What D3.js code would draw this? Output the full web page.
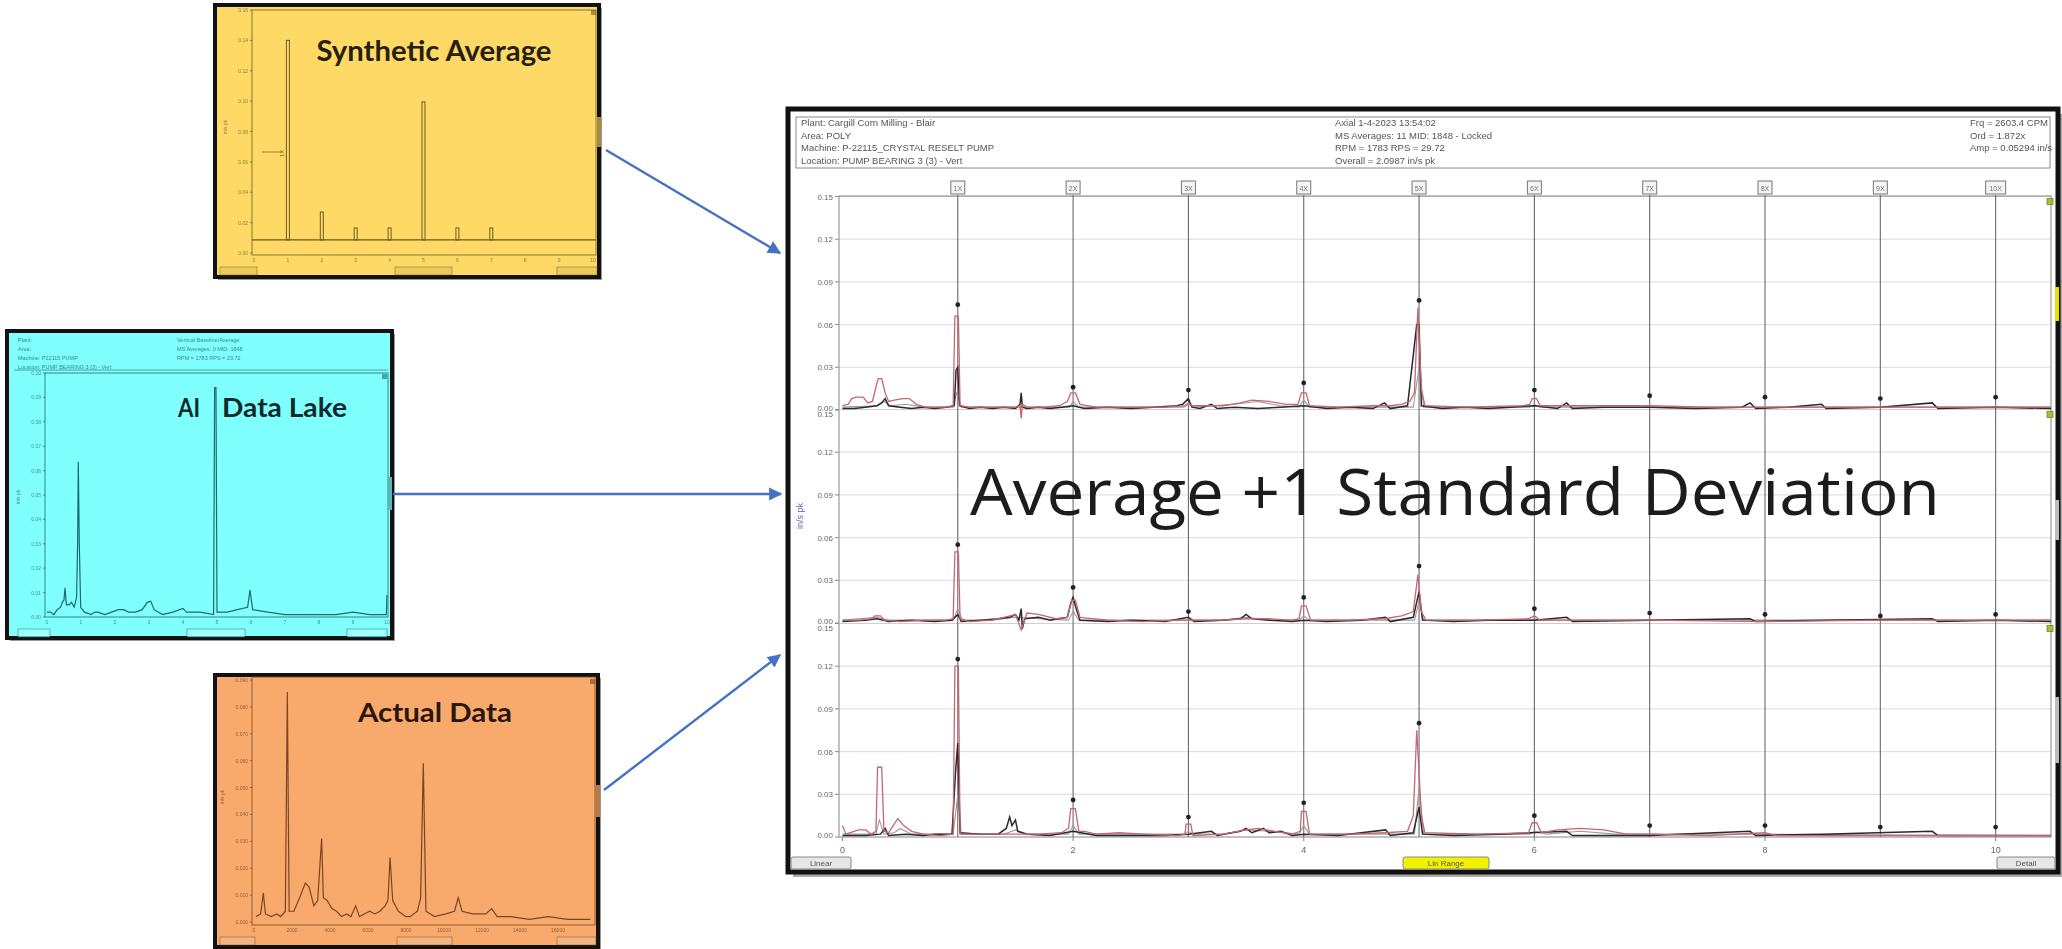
<!DOCTYPE html>
<html><head><meta charset="utf-8">
<script src="https://cdn.jsdelivr.net/npm/d3@7"></script>
<style>body{margin:0;background:#fff;overflow:hidden}svg{display:block}</style>
</head><body>
<script>
// ================= DATA =================
// main chart (orders of running speed)
const harmonicOrders = [1,2,3,4,5,6,7,8,9,10];
const harmonicLabels = ["1X","2X","3X","4X","5X","6X","7X","8X","9X","10X"];
const mainXTicks = [0,2,4,6,8,10];
const mainYTicks = [0,0.03,0.06,0.09,0.12,0.15];
const mainYTickLabels = ["0.00","0.03","0.06","0.09","0.12","0.15"];
const headerLeft = ["Plant: Cargill Corn Milling - Blair","Area: POLY","Machine: P-22115_CRYSTAL RESELT PUMP","Location: PUMP BEARING 3 (3) - Vert"];
const headerMid = ["Axial   1-4-2023   13:54:02","MS Averages: 11    MID: 1848 - Locked","RPM = 1783    RPS = 29.72","Overall = 2.0987 in/s pk"];
const headerRight = ["Frq = 2603.4 CPM","Ord = 1.872x","Amp = 0.05294 in/s"];
const mainYTitle = "in/s pk";
const bigLabel = "Average +1 Standard Deviation";

const p1Pink = [[0,0.003],[0.05,0.004],[0.08,0.008],[0.12,0.009],[0.18,0.009],[0.22,0.005],[0.26,0.006],[0.29,0.016],[0.31,0.022],[0.34,0.022],[0.37,0.012],[0.40,0.006],[0.45,0.007],[0.52,0.008],[0.58,0.008],[0.64,0.004],[0.72,0.002],[0.8,0.002],[0.9,0.002],[0.96,0.003],[0.975,0.066],[1.005,0.066],[1.02,0.003],[1.1,0.002],[1.25,0.002],[1.4,0.002],[1.5,0.002],[1.54,0.003],[1.55,-0.006],[1.56,0.004],[1.6,0.002],[1.75,0.002],[1.88,0.003],[1.95,0.006],[1.98,0.012],[2.02,0.012],[2.06,0.004],[2.2,0.002],[2.5,0.002],[2.8,0.002],[2.97,0.003],[3.0,0.005],[3.03,0.003],[3.3,0.003],[3.45,0.005],[3.55,0.007],[3.7,0.006],[3.85,0.004],[3.95,0.004],[3.98,0.012],[4.02,0.012],[4.05,0.003],[4.3,0.002],[4.6,0.003],[4.75,0.003],[4.85,0.004],[4.92,0.006],[4.96,0.012],[4.99,0.072],[5.02,0.015],[5.05,0.003],[5.4,0.002],[5.9,0.003],[5.96,0.004],[5.98,0.008],[6.02,0.008],[6.05,0.003],[6.4,0.003],[7.0,0.003],[7.5,0.002],[8,0.002],[8.5,0.002],[9,0.002],[9.5,0.002],[10,0.002],[10.48,0.002]];
const p1Black = [[0,0.001],[0.1,0.001],[0.2,0.002],[0.3,0.003],[0.34,0.005],[0.37,0.008],[0.4,0.003],[0.5,0.002],[0.6,0.001],[0.7,0.002],[0.8,0.001],[0.9,0.002],[0.97,0.003],[0.985,0.028],[1.0,0.03],[1.015,0.003],[1.1,0.001],[1.2,0.002],[1.3,0.001],[1.4,0.002],[1.5,0.001],[1.54,0.004],[1.55,0.012],[1.56,0.002],[1.6,0.001],[1.7,0.002],[1.8,0.001],[1.9,0.002],[2.0,0.003],[2.1,0.001],[2.3,0.002],[2.5,0.001],[2.7,0.002],[2.9,0.003],[2.95,0.004],[3.0,0.008],[3.03,0.002],[3.1,0.001],[3.2,0.004],[3.25,0.001],[3.4,0.002],[3.6,0.001],[3.8,0.002],[4.0,0.003],[4.2,0.001],[4.4,0.002],[4.6,0.001],[4.7,0.005],[4.75,0.001],[4.9,0.003],[4.98,0.06],[5.0,0.06],[5.02,0.003],[5.2,0.001],[5.4,0.002],[5.6,0.001],[5.8,0.002],[6.0,0.003],[6.2,0.001],[6.28,0.005],[6.33,0.001],[6.6,0.002],[7.0,0.002],[7.4,0.001],[7.8,0.002],[7.87,0.005],[7.92,0.001],[8.2,0.002],[8.49,0.004],[8.53,0.001],[9.0,0.002],[9.45,0.005],[9.5,0.001],[10,0.002],[10.48,0.001]];
const p1Gray = [[0,0.002],[0.3,0.003],[0.36,0.006],[0.42,0.003],[0.55,0.004],[0.7,0.002],[0.96,0.002],[0.99,0.012],[1.03,0.002],[1.6,0.002],[1.97,0.002],[2.0,0.006],[2.05,0.002],[2.96,0.002],[3.0,0.004],[3.04,0.002],[3.4,0.004],[3.6,0.006],[3.8,0.003],[3.96,0.002],[4.0,0.007],[4.05,0.002],[4.95,0.002],[5.0,0.03],[5.04,0.002],[5.96,0.002],[6.0,0.004],[6.05,0.002],[6.96,0.002],[7.0,0.003],[7.04,0.002],[8,0.002],[9,0.002],[10.48,0.002]];
const p1Dots = [0.074,0.016,0.014,0.019,0.077,0.014,0.010,0.009,0.008,0.009];

const p2Pink = [[0,0.002],[0.15,0.002],[0.25,0.003],[0.28,0.005],[0.33,0.005],[0.36,0.002],[0.5,0.001],[0.7,0.002],[0.9,0.002],[0.96,0.003],[0.975,0.050],[1.005,0.050],[1.02,0.003],[1.1,0.001],[1.3,0.002],[1.4,0.004],[1.5,0.006],[1.55,-0.005],[1.6,0.007],[1.7,0.006],[1.85,0.003],[1.95,0.004],[1.99,0.016],[2.02,0.016],[2.06,0.004],[2.3,0.002],[2.6,0.001],[2.9,0.002],[3.0,0.002],[3.3,0.002],[3.5,0.003],[3.7,0.003],[3.9,0.002],[3.96,0.003],[3.98,0.012],[4.02,0.012],[4.06,0.002],[4.4,0.002],[4.7,0.003],[4.85,0.005],[4.95,0.008],[4.99,0.034],[5.02,0.008],[5.06,0.002],[5.5,0.002],[5.95,0.003],[6.0,0.005],[6.05,0.002],[6.5,0.002],[7,0.002],[8,0.001],[9,0.002],[10,0.002],[10.48,0.002]];
const p2Black = [[0,0.001],[0.2,0.002],[0.3,0.003],[0.4,0.001],[0.6,0.002],[0.8,0.001],[0.95,0.002],[1.0,0.006],[1.03,0.001],[1.2,0.002],[1.35,0.003],[1.45,0.004],[1.5,0.006],[1.53,0.002],[1.55,0.010],[1.56,-0.004],[1.58,0.003],[1.7,0.004],[1.8,0.002],[1.95,0.004],[1.98,0.014],[2.0,0.018],[2.02,0.012],[2.06,0.002],[2.3,0.001],[2.5,0.002],[2.8,0.001],[3.0,0.004],[3.05,0.001],[3.3,0.002],[3.45,0.003],[3.5,0.006],[3.55,0.003],[3.7,0.002],[3.9,0.001],[4.0,0.002],[4.2,0.001],[4.5,0.002],[4.71,0.004],[4.75,0.001],[4.95,0.004],[5.0,0.022],[5.03,0.002],[5.3,0.001],[5.6,0.002],[6.0,0.002],[6.28,0.004],[6.33,0.001],[7,0.002],[7.87,0.003],[7.92,0.001],[8.5,0.002],[9.45,0.003],[9.5,0.001],[10,0.002],[10.48,0.001]];
const p2Gray = [[0,0.002],[0.3,0.004],[0.4,0.002],[0.96,0.002],[1.0,0.010],[1.04,0.002],[1.3,0.002],[1.5,0.004],[1.7,0.003],[1.96,0.002],[2.0,0.008],[2.05,0.002],[3.3,0.002],[3.5,0.004],[3.7,0.002],[3.96,0.002],[4.0,0.005],[4.05,0.002],[4.96,0.002],[5.0,0.015],[5.04,0.002],[5.96,0.002],[6.0,0.003],[6.04,0.002],[7,0.002],[8.5,0.002],[10.48,0.002]];
const p2Dots = [0.055,0.025,0.008,0.018,0.040,0.010,0.007,0.006,0.005,0.006];

const p3Pink = [[0,0.008],[0.03,0.002],[0.1,0.004],[0.14,0.005],[0.2,0.005],[0.25,0.002],[0.29,0.004],[0.305,0.049],[0.34,0.049],[0.36,0.004],[0.4,0.003],[0.44,0.008],[0.48,0.013],[0.53,0.008],[0.6,0.004],[0.7,0.002],[0.85,0.001],[0.96,0.002],[0.975,0.120],[1.005,0.120],[1.02,0.002],[1.2,0.002],[1.35,0.002],[1.5,0.002],[1.7,0.002],[1.9,0.003],[1.96,0.006],[1.98,0.020],[2.02,0.020],[2.05,0.004],[2.1,0.004],[2.2,0.002],[2.4,0.003],[2.6,0.002],[2.9,0.001],[2.97,0.002],[2.98,0.009],[3.02,0.009],[3.04,0.001],[3.3,0.002],[3.5,0.005],[3.6,0.006],[3.75,0.004],[3.9,0.002],[3.97,0.004],[3.98,0.018],[4.02,0.018],[4.05,0.002],[4.4,0.002],[4.7,0.003],[4.9,0.004],[4.95,0.015],[4.98,0.075],[5.02,0.015],[5.05,0.003],[5.5,0.002],[5.95,0.003],[5.98,0.010],[6.02,0.010],[6.06,0.003],[6.2,0.005],[6.4,0.006],[6.6,0.005],[6.8,0.002],[7.0,0.002],[7.5,0.001],[8.0,0.003],[8.1,0.001],[9,0.001],[10,0.001],[10.48,0.001]];
const p3Black = [[0,0.001],[0.2,0.001],[0.33,0.002],[0.37,0.006],[0.4,0.001],[0.55,0.002],[0.7,0.001],[0.8,0.002],[0.95,0.002],[0.98,0.045],[1.0,0.066],[1.02,0.003],[1.2,0.002],[1.35,0.002],[1.42,0.006],[1.45,0.014],[1.47,0.008],[1.5,0.012],[1.52,0.004],[1.6,0.002],[1.8,0.001],[2.0,0.004],[2.2,0.001],[2.5,0.001],[2.8,0.001],[3.0,0.002],[3.2,0.004],[3.25,0.001],[3.45,0.004],[3.5,0.006],[3.55,0.003],[3.65,0.006],[3.7,0.003],[3.8,0.004],[3.9,0.001],[4.0,0.002],[4.3,0.001],[4.71,0.005],[4.75,0.001],[4.95,0.003],[5.0,0.021],[5.03,0.002],[5.3,0.001],[5.7,0.002],[6.28,0.004],[6.33,0.001],[7,0.001],[7.87,0.004],[7.92,0.001],[8.5,0.002],[9.45,0.004],[9.5,0.001],[10,0.001],[10.48,0.001]];
const p3Gray = [[0,0.002],[0.29,0.002],[0.32,0.012],[0.36,0.002],[0.45,0.003],[0.5,0.006],[0.6,0.002],[0.96,0.002],[1.0,0.03],[1.03,0.002],[1.4,0.002],[1.5,0.005],[1.6,0.002],[1.96,0.002],[2.0,0.008],[2.05,0.002],[2.96,0.002],[3.0,0.004],[3.04,0.002],[3.3,0.002],[3.5,0.005],[3.7,0.004],[3.96,0.002],[4.0,0.008],[4.05,0.002],[4.96,0.002],[5.0,0.035],[5.04,0.002],[5.96,0.002],[6.0,0.004],[6.1,0.002],[6.4,0.004],[6.7,0.002],[7,0.002],[8,0.002],[10.48,0.001]];
const p3Dots = [0.125,0.026,0.014,0.024,0.080,0.015,0.008,0.008,0.007,0.007];

// inset 1: Synthetic Average (orders, discrete lines)
const synthTitle = "Synthetic Average";
const synthOrders = [1,2,3,4,5,6,7];
const synthValues = [0.140,0.027,0.0165,0.0165,0.0995,0.0165,0.0165];
const synthFloor = [0.0086];
const synthXTicks = [0,1,2,3,4,5,6,7,8,9,10];
const synthYTicks = [0,0.02,0.04,0.06,0.08,0.10,0.12,0.14,0.16];

// inset 2: AI Data Lake (orders)
const lakeTitle = ["AI","Data Lake"];
const lakeHeaderLeft = ["Plant:","Area:","Machine: P22115 PUMP","Location: PUMP BEARING 3 (3) - Vert"];
const lakeHeaderMid = ["Vertical   Baseline/Average","MS Averages: 0    MID: 1848","RPM = 1783    RPS = 29.72"];
const lakeSpectrum = [[0,0.002],[0.1,0.002],[0.2,0.001],[0.3,0.003],[0.4,0.004],[0.45,0.006],[0.5,0.007],[0.53,0.012],[0.57,0.005],[0.65,0.005],[0.72,0.006],[0.8,0.004],[0.87,0.008],[0.9,0.03],[0.92,0.0635],[0.95,0.03],[0.99,0.004],[1.1,0.002],[1.3,0.001],[1.4,0.002],[1.5,0.002],[1.7,0.001],[1.9,0.002],[2.1,0.003],[2.25,0.003],[2.4,0.002],[2.6,0.002],[2.8,0.003],[2.95,0.006],[3.05,0.0065],[3.15,0.003],[3.4,0.001],[3.7,0.002],[4.0,0.0035],[4.1,0.002],[4.5,0.002],[4.9,0.001],[4.93,0.094],[4.97,0.094],[5.0,0.002],[5.3,0.002],[5.6,0.003],[5.9,0.004],[5.97,0.011],[6.05,0.003],[6.5,0.002],[7,0.001],[7.5,0.001],[8,0.001],[8.5,0.001],[9.0,0.002],[9.5,0.001],[9.98,0.001],[10,0.009]];
const lakeXTicks = [0,1,2,3,4,5,6,7,8,9,10];
const lakeYTicks = [0,0.01,0.02,0.03,0.04,0.05,0.06,0.07,0.08,0.09,0.10];

// inset 3: Actual Data (CPM)
const actualTitle = "Actual Data";
const actualSpectrum = [[100,0.002],[350,0.003],[490,0.0108],[600,0.003],[900,0.002],[1190,0.003],[1400,0.002],[1650,0.004],[1755,0.0855],[1850,0.004],[2100,0.004],[2400,0.009],[2700,0.0145],[2900,0.013],[3150,0.006],[3350,0.008],[3560,0.031],[3650,0.009],[3850,0.008],[4100,0.005],[4350,0.004],[4600,0.002],[4880,0.003],[5100,0.002],[5350,0.006],[5550,0.002],[5800,0.003],[6100,0.004],[6350,0.003],[6630,0.004],[6900,0.006],[7050,0.008],[7160,0.024],[7300,0.008],[7600,0.004],[8000,0.002],[8210,0.002],[8600,0.004],[8770,0.009],[8910,0.059],[9050,0.004],[9500,0.002],[10100,0.003],[10550,0.004],[10750,0.009],[10950,0.004],[11500,0.003],[12200,0.003],[12510,0.005],[12800,0.002],[13500,0.002],[14500,0.001],[15500,0.002],[16500,0.001],[17700,0.001]];
const actualXTicks = [0,2000,4000,6000,8000,10000,12000,14000,16000];
const actualYTicks = [0,0.01,0.02,0.03,0.04,0.05,0.06,0.07,0.08,0.09];

// ================= DRAW =================
const W = 2062, H = 949;
const svg = d3.select("body").append("svg").attr("width", W).attr("height", H)
  .style("font-family", "'Liberation Sans', Arial, sans-serif");
const defs = svg.append("defs");
defs.append("marker").attr("id","arrowHead").attr("viewBox","0 0 10 10")
  .attr("refX",9).attr("refY",5).attr("markerWidth",5.5).attr("markerHeight",5.5)
  .attr("orient","auto").append("path").attr("d","M0,0L10,5L0,10z").attr("fill","#4472C4");
defs.append("filter").attr("id","soft").append("feGaussianBlur").attr("stdDeviation",0.45);

// ---------- MAIN CHART ----------
const main = svg.append("g");
main.append("rect").attr("x",793).attr("y",114).attr("width",1270).attr("height",763).attr("fill","#aaa");
main.append("rect").attr("x",788).attr("y",109).attr("width",1270).attr("height",763)
  .attr("fill","#fff").attr("stroke","#111").attr("stroke-width",5);
main.append("rect").attr("x",796).attr("y",117).attr("width",1254).attr("height",51)
  .attr("fill","none").attr("stroke","#8a8a8a").attr("stroke-width",1);

const hdr = main.append("g").attr("font-size",9.5).attr("fill","#555").attr("filter","url(#soft)");
hdr.selectAll("text.l").data(headerLeft).join("text").attr("x",801).attr("y",(d,i)=>126+i*12.5).text(d=>d);
hdr.selectAll("text.m").data(headerMid).join("text").attr("x",1335).attr("y",(d,i)=>126+i*12.5).text(d=>d);
hdr.selectAll("text.r").data(headerRight).join("text").attr("x",1970).attr("y",(d,i)=>126+i*12.5).text(d=>d);

const x = d3.scaleLinear().domain([-0.03, 10.48]).range([839, 2051]);
const panelBottoms = [410, 623, 837];
const panelScales = panelBottoms.map(b => d3.scaleLinear().domain([0, 0.15]).range([b, b - 213.5]));
const plotTop = 196, plotBottom = 837;

// grid lines
panelScales.forEach((y, pi) => {
  main.append("g").selectAll("line").data(mainYTicks.slice(1, 5)).join("line")
    .attr("x1", x.range()[0]).attr("x2", x.range()[1])
    .attr("y1", d => y(d)).attr("y2", d => y(d)).attr("stroke", "#e2e2e2").attr("stroke-width", 1.2);
  main.append("line").attr("x1", x.range()[0]).attr("x2", x.range()[1])
    .attr("y1", y(0.15)).attr("y2", y(0.15)).attr("stroke", "#cfcfcf");
  const lab = main.append("g").attr("font-size", 8).attr("fill", "#666").attr("text-anchor","end").attr("filter","url(#soft)");
  lab.selectAll("text").data(mainYTicks).join("text")
    .attr("x", 833).attr("y", d => y(d) + 3 + (d === 0 ? -2 : 0) + (d === 0.15 && pi > 0 ? 4 : 0))
    .text((d,i) => mainYTickLabels[i]);
  main.append("g").selectAll("line").data(mainYTicks).join("line")
    .attr("x1",835).attr("x2",839).attr("y1",d=>y(d)).attr("y2",d=>y(d)).attr("stroke","#888");
});

// frame
main.append("rect").attr("x", x.range()[0]).attr("y", plotTop).attr("width", x.range()[1]-x.range()[0])
  .attr("height", plotBottom - plotTop).attr("fill","none").attr("stroke","#9a9a9a").attr("stroke-width",1.2);

// harmonic cursor lines + label boxes
main.append("g").selectAll("line").data(harmonicOrders).join("line")
  .attr("x1", d => x(d)).attr("x2", d => x(d)).attr("y1", plotTop - 1).attr("y2", plotBottom)
  .attr("stroke", "#6a6a6a").attr("stroke-width", 1.1);
const hb = main.append("g").selectAll("g").data(harmonicOrders).join("g")
  .attr("transform", d => `translate(${x(d)},${plotTop - 8})`);
hb.append("rect").attr("x", (d,i) => i === 9 ? -10 : -7).attr("y", -7)
  .attr("width", (d,i) => i === 9 ? 20 : 14).attr("height", 13)
  .attr("fill", "#f4f4f4").attr("stroke", "#777");
hb.append("text").attr("text-anchor","middle").attr("y",3).attr("font-size",7).attr("fill","#777")
  .attr("filter","url(#soft)").text((d,i) => harmonicLabels[i]);

// traces
const panels = [
  {pink: p1Pink, black: p1Black, gray: p1Gray, dots: p1Dots},
  {pink: p2Pink, black: p2Black, gray: p2Gray, dots: p2Dots},
  {pink: p3Pink, black: p3Black, gray: p3Gray, dots: p3Dots}
];
panels.forEach((p, pi) => {
  const y = panelScales[pi];
  const line = d3.line().x(d => x(d[0])).y(d => y(d[1]));
  const g = main.append("g");
  g.append("path").datum(p.gray).attr("d", line).attr("fill","none").attr("stroke","#9c9c9c").attr("stroke-width",1.1);
  g.append("path").datum(p.black).attr("d", line).attr("fill","none").attr("stroke","#2a2a2a").attr("stroke-width",1.5);
  g.append("path").datum(p.pink).attr("d", line).attr("fill","none").attr("stroke","#c56674").attr("stroke-width",1.3);
  g.selectAll("circle").data(p.dots).join("circle")
    .attr("cx", (d,i) => x(harmonicOrders[i])).attr("cy", d => y(d)).attr("r", 2.4).attr("fill","#222");
  g.append("rect").attr("x", 2047).attr("y", y(0.15) + 2).attr("width", 6).attr("height", 6)
    .attr("fill","#9fc23a").attr("stroke","#6d8a20").attr("stroke-width",0.8);
});

// x axis labels
main.append("g").attr("font-size",9).attr("fill","#666").attr("text-anchor","middle").attr("filter","url(#soft)")
  .selectAll("text").data(mainXTicks).join("text").attr("x", d => x(d)).attr("y", 853).text(d => d);
main.append("g").selectAll("line").data(mainXTicks).join("line")
  .attr("x1", d => x(d)).attr("x2", d => x(d)).attr("y1", plotBottom).attr("y2", plotBottom + 4).attr("stroke","#888");

// y title
main.append("text").attr("transform","translate(803,516) rotate(-90)").attr("text-anchor","middle")
  .attr("font-size",9).attr("fill","#6a5fb0").attr("filter","url(#soft)").text(mainYTitle);

// right-edge handles
main.append("rect").attr("x",2055).attr("y",287).attr("width",4).attr("height",34).attr("fill","#e8e000");
main.append("rect").attr("x",2055).attr("y",500).attr("width",4).attr("height",40).attr("fill","#bdbdbd");
main.append("rect").attr("x",2055).attr("y",697).attr("width",4).attr("height",66).attr("fill","#bdbdbd");

// bottom buttons
const btns = [{x:791,w:60,t:"Linear",f:"#e6e6e6"},{x:1403,w:86,t:"Lin Range",f:"#f2f200"},{x:1997,w:58,t:"Detail",f:"#e6e6e6"}];
const bg = main.append("g").selectAll("g").data(btns).join("g");
bg.append("rect").attr("x",d=>d.x).attr("y",857).attr("width",d=>d.w).attr("height",12).attr("rx",2)
  .attr("fill",d=>d.f).attr("stroke","#888");
bg.append("text").attr("x",d=>d.x+d.w/2).attr("y",866).attr("text-anchor","middle").attr("font-size",8)
  .attr("fill","#555").attr("filter","url(#soft)").text(d=>d.t);

// big overlay text
main.append("text").attr("x",970).attr("y",515).attr("font-family","'Open Sans', 'Noto Sans', sans-serif")
  .attr("font-size",64).attr("fill","#1c1c1c").attr("textLength",970).attr("lengthAdjust","spacingAndGlyphs")
  .text(bigLabel);

// ---------- INSET HELPERS ----------
function insetBox(bx, by, bw, bh, fill) {
  svg.append("rect").attr("x",bx+3).attr("y",by+3).attr("width",bw).attr("height",bh).attr("fill","#999");
  svg.append("rect").attr("x",bx).attr("y",by).attr("width",bw).attr("height",bh)
    .attr("fill",fill).attr("stroke","#111").attr("stroke-width",4);
}
function insetFrame(g, xs, ys, ink, xTicks, yTicks, yFmt, xFmt, frame) {
  g.append("rect").attr("x",frame[0]).attr("y",frame[1]).attr("width",frame[2]-frame[0]).attr("height",frame[3]-frame[1])
    .attr("fill","none").attr("stroke",ink).attr("stroke-width",1).attr("opacity",0.8);
  const t = g.append("g").attr("font-size",5).attr("fill",ink).attr("opacity",0.75).attr("filter","url(#soft)");
  t.selectAll("text.y").data(yTicks).join("text").attr("x",frame[0]-4).attr("y",d=>ys(d)+2)
    .attr("text-anchor","end").text(yFmt);
  t.selectAll("text.x").data(xTicks).join("text").attr("x",d=>xs(d)).attr("y",frame[3]+7)
    .attr("text-anchor","middle").text(xFmt);
  g.append("g").selectAll("line").data(yTicks).join("line").attr("x1",frame[0]-2).attr("x2",frame[0])
    .attr("y1",d=>ys(d)).attr("y2",d=>ys(d)).attr("stroke",ink).attr("opacity",0.7);
}
function insetButtons(g, xs3, y, ink, fill) {
  g.append("g").selectAll("rect").data(xs3).join("rect").attr("x",d=>d[0]).attr("y",y).attr("width",d=>d[1]-d[0])
    .attr("height",8).attr("fill",fill).attr("stroke",ink).attr("stroke-width",0.6).attr("opacity",0.8);
}

// ---------- INSET 1: SYNTHETIC AVERAGE ----------
{
  const ink = "#6b5c1f";
  insetBox(215, 5, 384, 272, "#FFD966");
  const g = svg.append("g");
  const xs = d3.scaleLinear().domain([0,10]).range([254,593]);
  const ys = d3.scaleLinear().domain([0,0.16]).range([253,10]);
  insetFrame(g, xs, ys, ink, synthXTicks, synthYTicks, d=>d.toFixed(2), d=>d, [252,10,596,255]);
  g.append("line").attr("x1",252).attr("x2",596).attr("y1",ys(synthFloor[0])).attr("y2",ys(synthFloor[0]))
    .attr("stroke",ink).attr("stroke-width",1.2);
  g.selectAll("rect.pk").data(synthValues).join("rect").attr("class","pk")
    .attr("x",(d,i)=>xs(synthOrders[i])-1.5).attr("width",3)
    .attr("y",d=>ys(d)).attr("height",d=>ys(synthFloor[0])-ys(d))
    .attr("fill","none").attr("stroke",ink).attr("stroke-width",1);
  g.append("line").attr("x1",262).attr("x2",282).attr("y1",152).attr("y2",152).attr("stroke",ink).attr("stroke-width",0.7);
  g.append("text").attr("transform","translate(284,157) rotate(-90)").attr("font-size",6).attr("fill",ink).text("1X");
  g.append("text").attr("transform","translate(227,127) rotate(-90)").attr("font-size",5).attr("text-anchor","middle")
    .attr("fill",ink).attr("opacity",0.7).text("in/s pk");
  g.append("rect").attr("x",596).attr("y",117).attr("width",5).attr("height",30).attr("fill","#c9a94a").attr("opacity",0.8);
  g.append("rect").attr("x",591).attr("y",10).attr("width",5).attr("height",5).attr("fill",ink).attr("opacity",0.6);
  insetButtons(g, [[220,257],[395,452],[557,597]], 267, ink, "#e8c85a");
  g.append("text").attr("x",434).attr("y",61).attr("text-anchor","middle").attr("font-family","Lato, 'Open Sans', sans-serif")
    .attr("font-weight","bold").attr("font-size",29).attr("fill","#262010").attr("textLength",235)
    .attr("lengthAdjust","spacingAndGlyphs").text(synthTitle);
}

// ---------- INSET 2: AI DATA LAKE ----------
{
  const ink = "#1f6a6a";
  insetBox(7, 331, 385, 307, "#80FFFF");
  const g = svg.append("g");
  const xs = d3.scaleLinear().domain([0,10]).range([47,387]);
  const ys = d3.scaleLinear().domain([0,0.10]).range([617,373]);
  const ht = g.append("g").attr("font-size",5.5).attr("fill",ink).attr("opacity",0.8).attr("filter","url(#soft)");
  ht.selectAll("text.l").data(lakeHeaderLeft).join("text").attr("x",18).attr("y",(d,i)=>342+i*9).text(d=>d);
  ht.selectAll("text.m").data(lakeHeaderMid).join("text").attr("x",177).attr("y",(d,i)=>342+i*9).text(d=>d);
  g.append("line").attr("x1",14).attr("x2",388).attr("y1",370).attr("y2",370).attr("stroke",ink).attr("opacity",0.6);
  insetFrame(g, xs, ys, ink, lakeXTicks, lakeYTicks, d=>d.toFixed(2), d=>d, [45,373,388,617]);
  g.append("path").datum(lakeSpectrum).attr("d", d3.line().x(d=>xs(d[0])).y(d=>ys(d[1])))
    .attr("fill","none").attr("stroke",ink).attr("stroke-width",1.2);
  g.append("text").attr("transform","translate(20,497) rotate(-90)").attr("font-size",5).attr("text-anchor","middle")
    .attr("fill",ink).attr("opacity",0.7).text("in/s pk");
  g.append("rect").attr("x",388).attr("y",477).attr("width",4).attr("height",33).attr("fill","#5fb5b5");
  g.append("rect").attr("x",382).attr("y",374).attr("width",5).attr("height",5).attr("fill",ink).attr("opacity",0.6);
  insetButtons(g, [[18,50],[187,245],[347,387]], 629, ink, "#a8ffff");
  const tt = g.append("g").attr("font-family","Lato, 'Open Sans', sans-serif").attr("font-weight","bold")
    .attr("font-size",26).attr("fill","#0e2a2a");
  tt.append("text").attr("x",178).attr("y",417).attr("textLength",22).attr("lengthAdjust","spacingAndGlyphs").text(lakeTitle[0]);
  tt.append("text").attr("x",222).attr("y",417).attr("textLength",125).attr("lengthAdjust","spacingAndGlyphs").text(lakeTitle[1]);
}

// ---------- INSET 3: ACTUAL DATA ----------
{
  const ink = "#7a4622";
  insetBox(215, 675, 383, 272, "#F8AA6C");
  const g = svg.append("g");
  const xs = d3.scaleLinear().domain([0,18000]).range([254,596]);
  const ys = d3.scaleLinear().domain([0,0.09]).range([922,680]);
  insetFrame(g, xs, ys, ink, actualXTicks, actualYTicks, d=>d.toFixed(3), d=>d, [252,677,595,925]);
  g.append("path").datum(actualSpectrum).attr("d", d3.line().x(d=>xs(d[0])).y(d=>ys(d[1])))
    .attr("fill","none").attr("stroke",ink).attr("stroke-width",1.2);
  g.append("text").attr("transform","translate(224,797) rotate(-90)").attr("font-size",5).attr("text-anchor","middle")
    .attr("fill",ink).attr("opacity",0.7).text("in/s pk");
  g.append("rect").attr("x",595).attr("y",785).attr("width",5).attr("height",32).attr("fill","#b7794a");
  g.append("rect").attr("x",590).attr("y",679).attr("width",5).attr("height",5).attr("fill",ink).attr("opacity",0.6);
  insetButtons(g, [[220,255],[397,452],[557,596]], 937, ink, "#f0b888");
  g.append("text").attr("x",435).attr("y",722).attr("text-anchor","middle").attr("font-family","Lato, 'Open Sans', sans-serif")
    .attr("font-weight","bold").attr("font-size",27).attr("fill","#2a160a").attr("textLength",154)
    .attr("lengthAdjust","spacingAndGlyphs").text(actualTitle);
}

// ---------- ARROWS ----------
const arrows = [[606,150,780,253],[393,494,781,494],[604,790,780,655]];
svg.append("g").selectAll("line").data(arrows).join("line")
  .attr("x1",d=>d[0]).attr("y1",d=>d[1]).attr("x2",d=>d[2]).attr("y2",d=>d[3])
  .attr("stroke","#4472C4").attr("stroke-width",2.4).attr("marker-end","url(#arrowHead)");
</script>
</body></html>
